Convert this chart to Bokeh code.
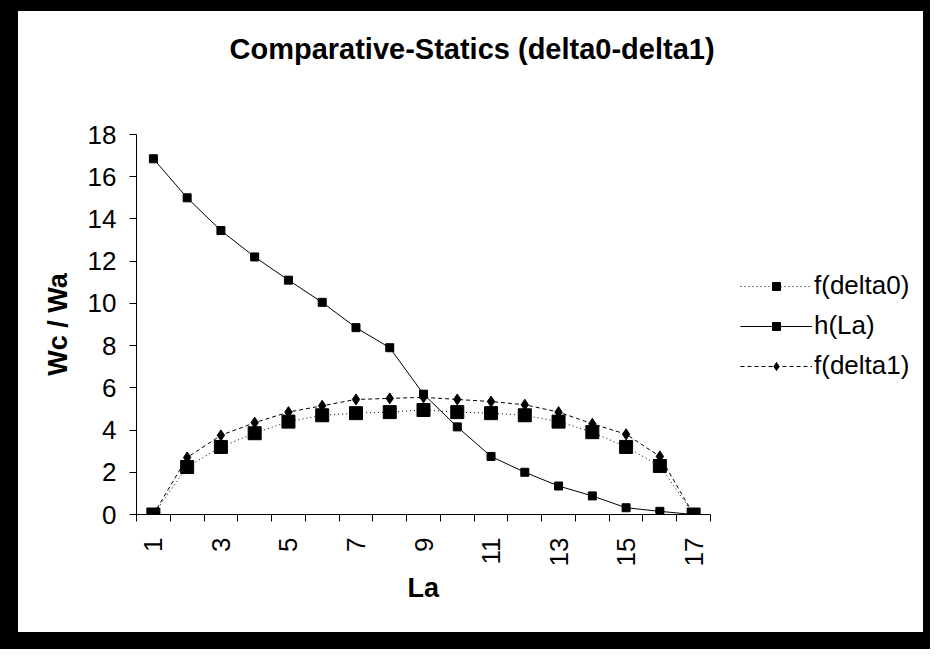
import math
from bokeh.plotting import figure
from bokeh.models import Range1d, FixedTicker, Legend, LegendItem, Title
from bokeh.layouts import column
from bokeh.embed import file_html
from bokeh.resources import INLINE

# ---- data ----
LA = [1, 2, 3, 4, 5, 6, 7, 8, 9, 10, 11, 12, 13, 14, 15, 16, 17]
F_DELTA0 = [0.0, 2.25, 3.2, 3.85, 4.4, 4.7, 4.8, 4.85, 4.95, 4.85, 4.8, 4.7, 4.4, 3.9, 3.2, 2.3, 0.0]
H_LA = [16.85, 15.0, 13.45, 12.2, 11.1, 10.05, 8.85, 7.9, 5.7, 4.15, 2.75, 2.0, 1.35, 0.88, 0.32, 0.15, 0.0]
F_DELTA1 = [0.0, 2.7, 3.75, 4.35, 4.85, 5.15, 5.45, 5.5, 5.55, 5.45, 5.35, 5.2, 4.85, 4.3, 3.8, 2.75, 0.0]
X_LABEL_TICKS = [1, 3, 5, 7, 9, 11, 13, 15, 17]
X_BOUNDARY_TICKS = [0.5, 1.5, 2.5, 3.5, 4.5, 5.5, 6.5, 7.5, 8.5, 9.5, 10.5, 11.5, 12.5, 13.5, 14.5, 15.5, 16.5, 17.5]
Y_TICKS = [0, 2, 4, 6, 8, 10, 12, 14, 16, 18]
TITLE = "Comparative-Statics (delta0-delta1)"
X_TITLE = "La"
Y_TITLE = "Wc / Wa"
SERIES_NAMES = ["f(delta0)", "h(La)", "f(delta1)"]

FONT = "Liberation Sans"

# category axis spans 0.5..17.5; the frame continues to the right to hold the legend
p = figure(width=905, height=621,
           x_range=Range1d(0.5, 23.66), y_range=Range1d(0, 18),
           output_backend="svg", toolbar_location=None,
           min_border_left=118, min_border_right=5,
           min_border_top=123, min_border_bottom=118,
           outline_line_color=None, background_fill_color="white",
           border_fill_color="white")
p.margin = (11, 7, 17, 18)
p.styles = {"background-color": "white"}
p.grid.grid_line_color = None

# titles (spacer first so the main title sits higher)
p.add_layout(Title(text=" ", text_font_size="1px", standoff=67), "above")
p.add_layout(Title(text=TITLE, text_font=FONT, text_font_size="29px",
                   text_font_style="bold", text_color="black",
                   align="left", offset=93, standoff=0), "above")

# y axis
ya = p.yaxis[0]
ya.ticker = FixedTicker(ticks=Y_TICKS)
ya.axis_label = Y_TITLE
ya.axis_label_text_font = FONT
ya.axis_label_text_font_size = "27px"
ya.axis_label_text_font_style = "bold"
ya.axis_label_text_color = "black"
ya.axis_label_standoff = 12
ya.major_label_text_font = FONT
ya.major_label_text_font_size = "26px"
ya.major_label_text_color = "black"
ya.major_label_standoff = 13
ya.major_tick_out = 7
ya.major_tick_in = 0
ya.minor_tick_line_color = None
ya.axis_line_color = "black"
ya.major_tick_line_color = "black"

# x axis
xa = p.xaxis[0]
xa.bounds = (0.5, 17.5)
xa.ticker = FixedTicker(ticks=X_LABEL_TICKS, minor_ticks=X_BOUNDARY_TICKS)
xa.major_label_text_font = FONT
xa.major_label_text_font_size = "26px"
xa.major_label_text_color = "black"
xa.major_label_orientation = math.pi / 2
xa.major_label_standoff = 16
xa.major_tick_out = 0
xa.major_tick_in = 0
xa.major_tick_line_color = None
xa.minor_tick_out = 7
xa.minor_tick_in = 0
xa.minor_tick_line_color = "black"
xa.axis_line_color = "black"

p.add_layout(Title(text=X_TITLE, text_font=FONT, text_font_size="27px",
                   text_font_style="bold", text_color="black",
                   align="left", offset=271, standoff=2), "below")

# series
l0 = p.line(LA, F_DELTA0, line_color="black", line_width=1, line_dash="1 3")
m0 = p.scatter(LA, F_DELTA0, marker="square", size=13, color="black")
lh = p.line(LA, H_LA, line_color="black", line_width=1)
mh = p.scatter(LA, H_LA, marker="square", size=8, color="black")
l1 = p.line(LA, F_DELTA1, line_color="black", line_width=1, line_dash="4 3")
m1 = p.scatter(LA, F_DELTA1, marker="diamond", size=11, color="black")

legend = Legend(items=[
    LegendItem(label=SERIES_NAMES[0], renderers=[l0, m0]),
    LegendItem(label=SERIES_NAMES[1], renderers=[lh, mh]),
    LegendItem(label=SERIES_NAMES[2], renderers=[l1, m1]),
], location=(604, 133))
legend.border_line_color = None
legend.background_fill_alpha = 0
legend.label_text_font = FONT
legend.label_text_font_size = "26px"
legend.label_text_color = "black"
legend.glyph_width = 72
legend.glyph_height = 20
legend.label_standoff = 2
legend.spacing = 9
legend.padding = 10
legend.margin = 0
p.add_layout(legend)

root = column(p, width=930, height=649, styles={"background-color": "black"})

open("out.html", "w").write(file_html(root, INLINE))
